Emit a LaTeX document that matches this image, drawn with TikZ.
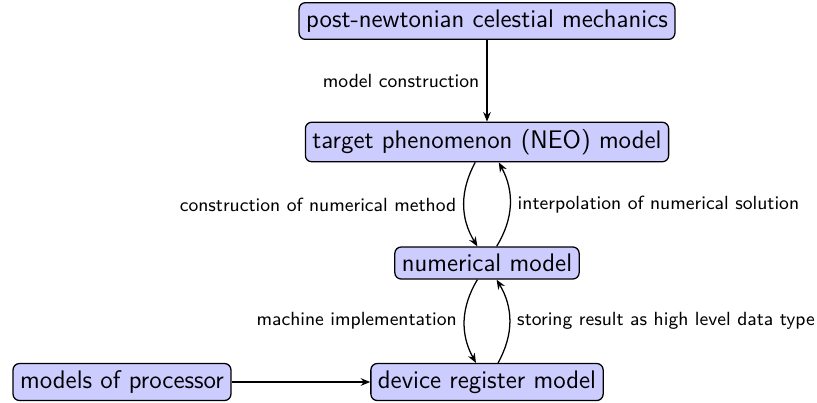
\documentclass[tikz,border=0pt]{standalone}
\usetikzlibrary{arrows.meta}
\begin{document}
\begin{tikzpicture}[x=0.472pt,y=-0.472pt,
  box/.style={draw, semithick, rounded corners=3pt, fill=blue!20, font=\sffamily\large},
  lbl/.style={font=\sffamily\small},
  arr/.style={-{Stealth[length=4.5pt,width=3.6pt]}, semithick}]
\useasboundingbox (0,0) rectangle (817,402);
\node[box] (pn) at (487,21) {post-newtonian celestial mechanics};
\node[box] (tp) at (487,142) {target phenomenon (NEO) model};
\node[box] (nm) at (487,263) {numerical model};
\node[box] (dr) at (487,382) {device register model};
\node[box] (mp) at (122,382) {models of processor};
\draw[arr] (pn) -- node[lbl,left]{model construction} (tp);
\draw[arr] (tp) to[bend right] node[lbl,left]{construction of numerical method} (nm);
\draw[arr] (nm) to[bend right] node[lbl,right]{interpolation of numerical solution} (tp);
\draw[arr] (nm) to[bend right] node[lbl,left]{machine implementation} (dr);
\draw[arr] (dr) to[bend right] node[lbl,right]{storing result as high level data type} (nm);
\draw[arr] (mp) -- (dr);
\end{tikzpicture}
\end{document}
